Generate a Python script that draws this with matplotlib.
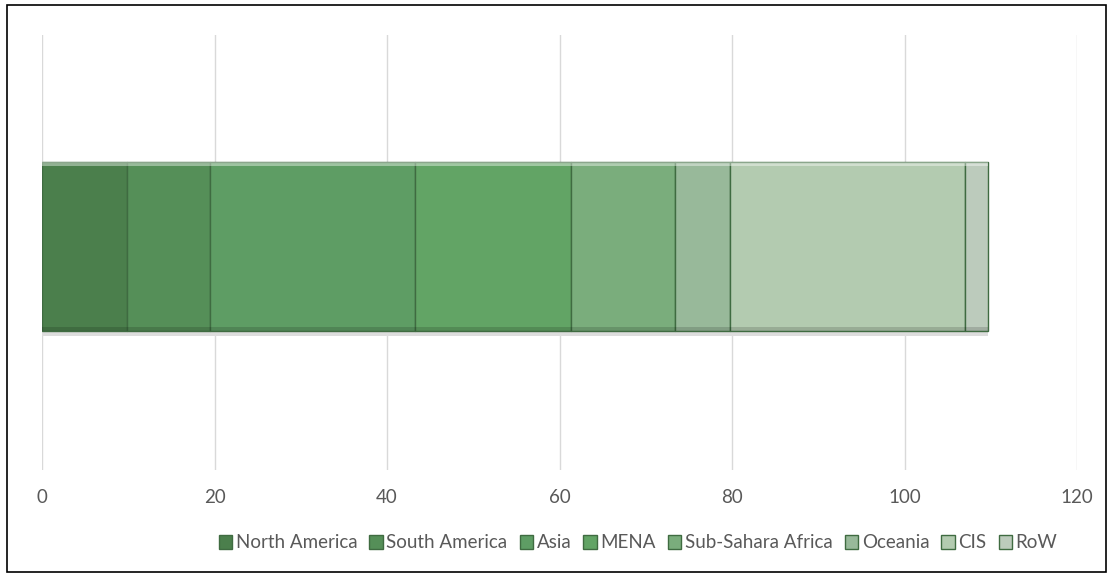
import matplotlib
matplotlib.use("Agg")
import matplotlib.pyplot as plt
from matplotlib.patches import Rectangle
import numpy as np

regions = ["North America", "South America", "Asia", "MENA", "Sub-Sahara Africa", "Oceania", "CIS", "RoW"]
values = [9.8, 9.7, 23.8, 18.0, 12.1, 6.4, 27.2, 2.7]
colors = ["#4b7f4c", "#558f58", "#5e9d64", "#62a465", "#7aad7c", "#98b99a", "#b3cbb0", "#bccbbc"]
xticks = [0, 20, 40, 60, 80, 100, 120]

plt.rcParams['font.family'] = ['Lato', 'DejaVu Sans']

fig = plt.figure(figsize=(11.14, 5.77), dpi=100)
ax = fig.add_axes([42/1114, 107/577, (1077-42)/1114, 435/577])

lefts = np.concatenate([[0], np.cumsum(values)[:-1]])
h = 0.39
for name, v, l, c in zip(regions, values, lefts, colors):
    ax.barh(0, v, left=l, height=h, color=c, edgecolor="#3f6b41", linewidth=1.0, label=name, zorder=3)
    # bevel highlight on top
    ax.barh(h/2 - 0.006, v, left=l, height=0.010, color="white", alpha=0.4, linewidth=0, zorder=4)
    # bottom shade
    ax.barh(-h/2 + 0.005, v, left=l, height=0.008, color="black", alpha=0.15, linewidth=0, zorder=4)
# shadow under bar
total = sum(values)
ax.barh(-h/2 - 0.006, total, left=0, height=0.010, color="#dddddd", linewidth=0, zorder=2)

ax.set_xlim(0, 120)
ax.set_ylim(-0.5 - 0.014, 0.5 - 0.014)
ax.set_xticks(xticks)
ax.set_xticklabels([str(t) for t in xticks], fontsize=13.5, color="#595959")
ax.set_yticks([])
ax.tick_params(axis='x', length=0, pad=14)
ax.grid(axis='x', color="#d9d9d9", linewidth=1, zorder=0)
for s in ax.spines.values():
    s.set_visible(False)

leg = fig.legend(loc="center", bbox_to_anchor=(638/1114, 34/577), ncol=8, frameon=False,
                 fontsize=13.5, handlelength=0.7, handleheight=0.7, handletextpad=0.2,
                 columnspacing=0.65, labelcolor="#595959")

fig.add_artist(Rectangle((7/1114, 5/577), (1106-7)/1114, (572-5)/577, transform=fig.transFigure,
                         fill=False, edgecolor="black", linewidth=1.2))

fig.savefig("out.png", dpi=100)
